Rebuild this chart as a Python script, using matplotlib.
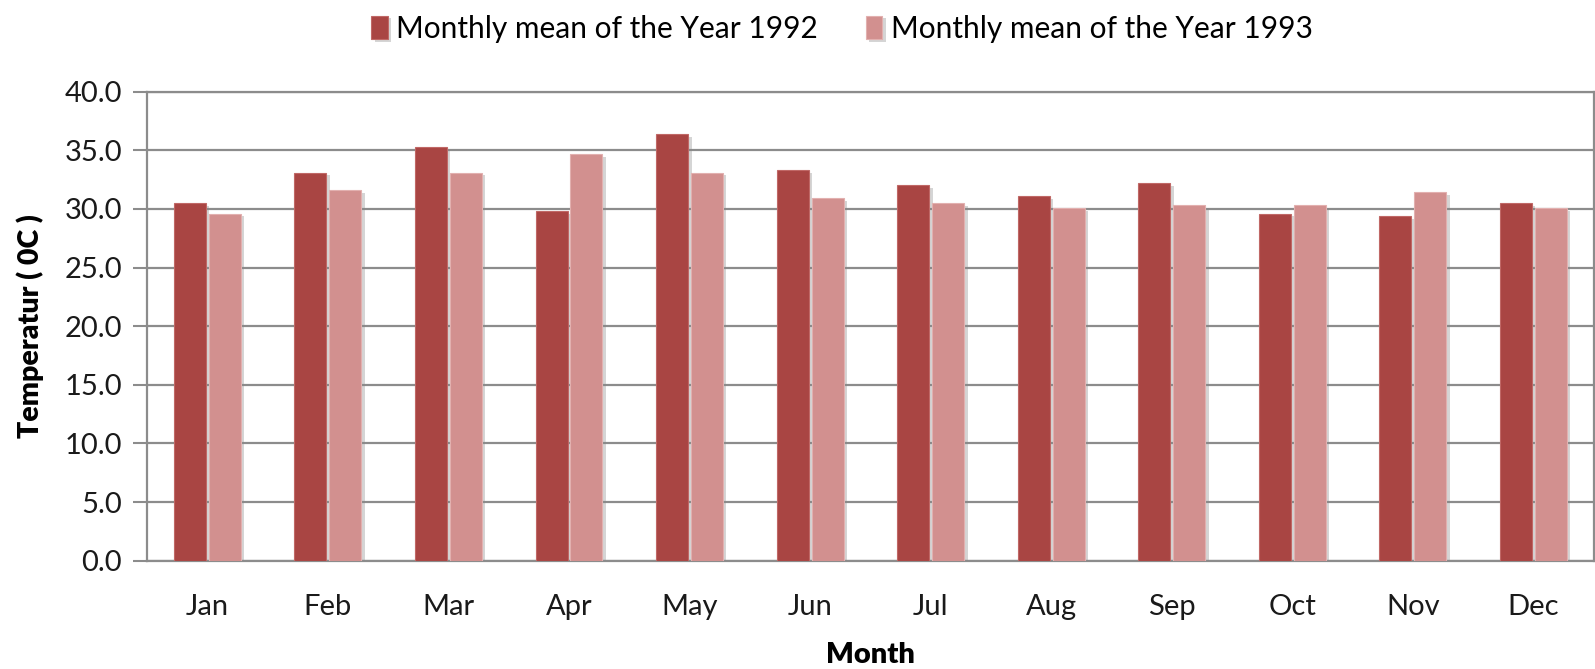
import matplotlib
matplotlib.use("Agg")
import matplotlib.pyplot as plt
import matplotlib.patheffects as pe
import numpy as np

months = ["Jan", "Feb", "Mar", "Apr", "May", "Jun", "Jul", "Aug", "Sep", "Oct", "Nov", "Dec"]
mean_1992 = [30.5, 33.1, 35.3, 29.8, 36.4, 33.3, 32.0, 31.1, 32.2, 29.6, 29.4, 30.5]
mean_1993 = [29.6, 31.6, 33.1, 34.7, 33.1, 30.9, 30.5, 30.1, 30.3, 30.3, 31.4, 30.1]
series_labels = ["Monthly mean of the Year 1992", "Monthly mean of the Year 1993"]
yticks = [0, 5, 10, 15, 20, 25, 30, 35, 40]

plt.rcParams['font.family'] = ['Lato', 'DejaVu Sans']

fig = plt.figure(figsize=(15.95, 6.69), dpi=100)
ax = fig.add_axes([0.0922, 0.162, 0.907, 0.701])

x = np.arange(len(months))
w = 0.265
gap = 0.012
shadow = [pe.SimplePatchShadow(offset=(2.5, -2), shadow_rgbFace='#888888', alpha=0.35), pe.Normal()]
b1 = ax.bar(x - w / 2 - gap, mean_1992, width=w, color='#A94543', edgecolor='#C06866',
            linewidth=0.8, label=series_labels[0], zorder=3, path_effects=shadow)
b2 = ax.bar(x + w / 2 + gap, mean_1993, width=w, color='#D2908F', edgecolor='#E2B0AF',
            linewidth=0.8, label=series_labels[1], zorder=3, path_effects=shadow)

ax.set_xlim(-0.5, len(months) - 0.5)
ax.set_ylim(0, 40)
ax.set_yticks(yticks)
ax.set_yticklabels([f"{v:.1f}" for v in yticks], fontsize=21, color='#1a1a1a')
ax.set_xticks(x)
ax.set_xticklabels(months, fontsize=21, color='#1a1a1a')
ax.tick_params(axis='x', length=0, pad=24)
ax.tick_params(axis='y', length=10, width=1.5, color='#8c8c8c', pad=8, direction='out')

ax.grid(axis='y', color='#8c8c8c', linewidth=1.6, zorder=0)
ax.set_axisbelow(True)
for s in ['left', 'bottom', 'right', 'top']:
    ax.spines[s].set_color('#8c8c8c')
    ax.spines[s].set_linewidth(1.6)

ax.set_xlabel("Month", fontsize=21, fontweight='heavy', labelpad=16)
ax.set_ylabel("Temperatur ( 0C )", fontsize=20.5, fontweight='heavy', labelpad=15)

leg = fig.legend(handles=[b1, b2], labels=series_labels, loc='upper center',
                 bbox_to_anchor=(0.528, 1.018), ncol=2, frameon=False, fontsize=21.5,
                 handlelength=0.55, handleheight=0.85, handletextpad=0.3, columnspacing=1.6)

fig.savefig("out.png", dpi=100)
